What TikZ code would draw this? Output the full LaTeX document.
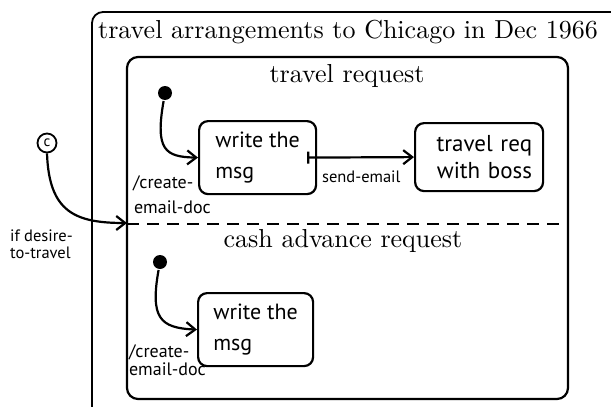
\documentclass[tikz,border=0pt]{standalone}
\usepackage{fontspec}
\newfontfamily\lblfont{PT Sans}
\newfontfamily\tenrm{lmroman10-regular.otf}
\usetikzlibrary{arrows.meta,calc}
\begin{document}
\begin{tikzpicture}[x=1pt,y=-1pt,
  line width=2.2pt,
  statebox/.style={draw,rounded corners=9pt,inner sep=0pt,anchor=north west,
    font=\lblfont\fontsize{22}{31}\selectfont},
  initdot/.style={circle,fill=black,inner sep=0pt,minimum size=14pt},
  trans/.style={-{Straight Barb[length=9pt,width=14pt]}},
  title/.style={inner sep=0pt,anchor=base,font=\tenrm\fontsize{26}{28}\selectfont},
  small/.style={inner sep=0pt,anchor=base west,font=\lblfont\fontsize{16.5}{18}\selectfont},
  createlbl/.style={small,font=\lblfont\fontsize{18}{18}\selectfont},
]
\useasboundingbox (0,0) rectangle (611,407);
\clip (0,0) rectangle (611,407);

% outer and inner superstates
\draw[rounded corners=11pt,line width=1.8pt] (92,12) rectangle (640,440);
\node[title] (ttl) at (348,38) {travel arrangements to Chicago in Dec 1966};
\draw[rounded corners=11pt] (127,57) rectangle (568,399);
\node[title] (treq) at (347,82) {travel request};
\draw[dash pattern=on 12pt off 8pt] (127,224) -- (568,224);
\node[title] (cash) at (343,247) {cash advance request};

% travel request region
\node[initdot] (d1) at (165,93) {};
\node[statebox,minimum width=117pt,minimum height=73pt,align=left] (w1) at (198,120)
  {write the\\msg};
\node[statebox,minimum width=128pt,minimum height=68pt,align=right,text width=106pt,
  font=\lblfont\fontsize{23}{27}\selectfont] (tr) at (414,122)
  {travel req\\with boss};
\draw[trans] (d1) .. controls (155,150) and (165,157) .. (w1.west);
\draw[{Bar[width=12pt]}-{Straight Barb[length=9pt,width=14pt]}] ([xshift=-10pt]w1.east) -- (tr.west);
\node[small] (se) at (321,182) {send-email};
\node[createlbl] (cr1) at (132,188) {/create-};
\node[createlbl] (em1) at (133,213) {email-doc};

% cash advance region
\node[initdot] (d2) at (160,262) {};
\node[statebox,minimum width=115pt,minimum height=73pt,align=left] (w2) at (197,292)
  {write the\\msg};
\draw[trans] (d2) .. controls (150,318) and (160,328) .. (w2.west);
\node[createlbl] (cr2) at (128,357) {/create-};
\node[createlbl] (em2) at (128,375) {email-doc};

% conditional entry
\node[circle,draw,line width=1.8pt,inner sep=0pt,minimum size=19pt,
  font=\lblfont\fontsize{15}{15}\selectfont] (cc) at (47,143) {c};
\coordinate (entry) at (127,223);
\draw[trans] (cc.south) .. controls (49,212) and (75,223) .. (entry);
\node[small] (if1) at (9,241) {if desire-};
\node[small] (if2) at (9,258) {to-travel};
\end{tikzpicture}
\end{document}
